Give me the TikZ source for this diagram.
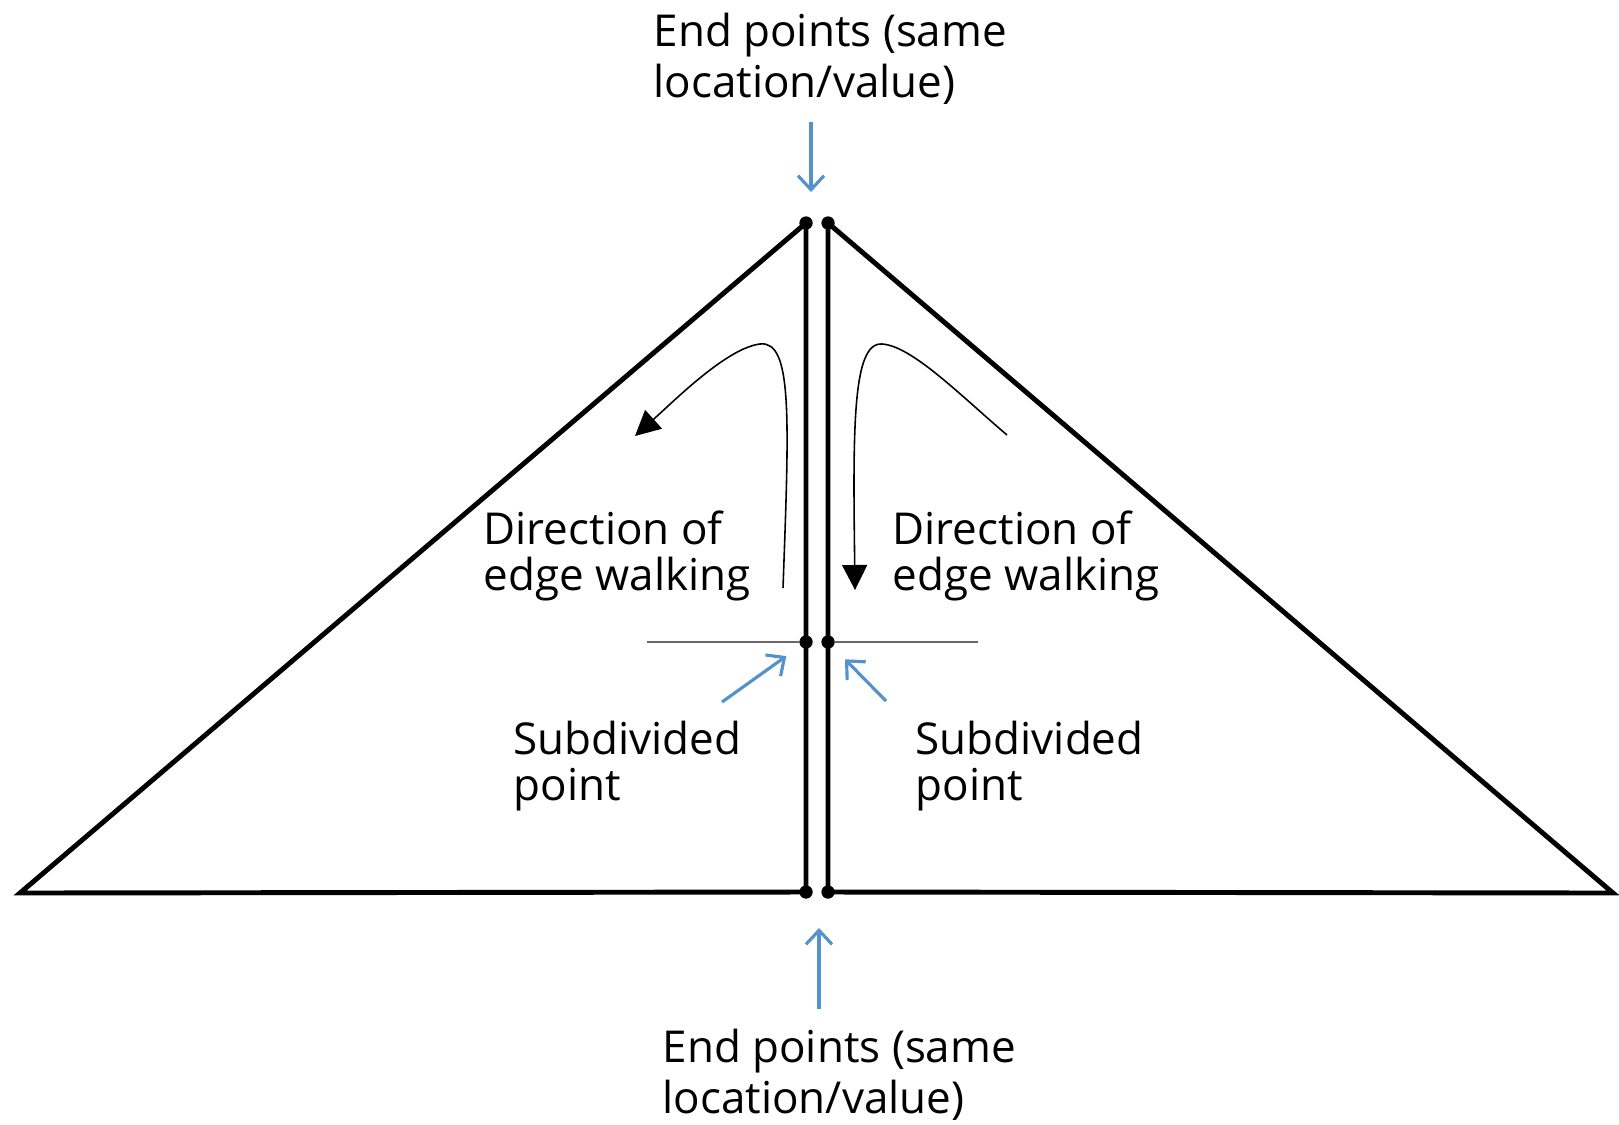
\documentclass[tikz,border=0pt]{standalone}
\usepackage{fontspec}
\setmainfont{Open Sans}
\usetikzlibrary{positioning,arrows.meta}
\definecolor{pointblue}{RGB}{84,146,204}
\definecolor{midgray}{RGB}{105,105,105}

\begin{document}
\begin{tikzpicture}[x=0.01cm, y=-0.01cm,
	vertex/.style={circle, fill=black, inner sep=0pt, minimum size=0.13cm},
	side/.style={draw=black, line width=1.4pt, line join=miter},
	walk/.style={line width=0.45pt, -{Triangle[length=0.25cm, width=0.25cm]}},
	pointer/.style={draw=pointblue, line width=0.9pt, -{Straight Barb[length=0.14cm, width=0.26cm]}},
	subline/.style={draw=midgray, line width=0.6pt},
	txt/.style={inner sep=0pt, anchor=base west, align=left, font=\fontsize{12.5pt}{13pt}\selectfont},
	endtxt/.style={txt, font=\fontsize{12.5pt}{14.5pt}\selectfont}]
	\useasboundingbox (0,0) rectangle (1619,1124);
	% corners of the two triangles
	\coordinate (LB) at (20,893);
	\coordinate (RB) at (1613,893);
	\node[vertex] (LT) at (806,223) {};
	\node[vertex] (RT) at (828,223) {};
	\node[vertex] (LD) at (806,892) {};
	\node[vertex] (RD) at (828,892) {};
	\node[vertex] (LM) at (806,642) {};
	\node[vertex] (RM) at (828,642) {};
	\draw[side] (LB) -- (LT.center) -- (LD.center) -- cycle;
	\draw[side] (RB) -- (RT.center) -- (RD.center) -- cycle;
	\node[vertex] at (LT) {};
	\node[vertex] at (RT) {};
	\node[vertex] at (LD) {};
	\node[vertex] at (RD) {};
	% subdivision
	\coordinate (SL) at (647,642);
	\coordinate (SR) at (978,642);
	\draw[subline] (SL) -- (LM);
	\draw[subline] (RM) -- (SR);
	\node[vertex] at (LM) {};
	\node[vertex] at (RM) {};
	% edge walking
	\coordinate (WL) at (783,588);
	\coordinate (WLend) at (635,436);
	\coordinate (WR) at (1007,435);
	\coordinate (WRend) at (855,590);
	\draw[walk] (WL) .. controls (789,420) and (793,340) .. (760,344) .. controls (727,348) and (675,400) .. (WLend);
	\draw[walk] (WR) .. controls (960,395) and (912,346) .. (882,344) .. controls (852,342) and (853,430) .. (WRend);
	% labels (anchored on the baseline of the last line)
	\node[endtxt] (EPtop) at (653,97) {End points (same\\location/value)};
	\node[endtxt] (EPbot) at (662,1113) {End points (same\\location/value)};
	\node[txt] (DirL) at (483,590) {Direction of\\edge walking};
	\node[txt] (DirR) at (892,590) {Direction of\\edge walking};
	\node[txt] (SubL) at (513,800) {Subdivided\\point};
	\node[txt] (SubR) at (915,800) {Subdivided\\point};
	% pointers
	\coordinate (PT0) at (811,122);
	\coordinate (PT1) at (811,192);
	\coordinate (PB0) at (819,1009);
	\coordinate (PB1) at (819,928);
	\coordinate (PL) at (722,702);
	\coordinate (PR) at (886,701);
	\draw[pointer] (PT0) -- (PT1);
	\draw[pointer] (PB0) -- (PB1);
	\draw[pointer, shorten >=0.17cm] (PL) -- (LM);
	\draw[pointer, shorten >=0.17cm] (PR) -- (RM);
\end{tikzpicture}
\end{document}
